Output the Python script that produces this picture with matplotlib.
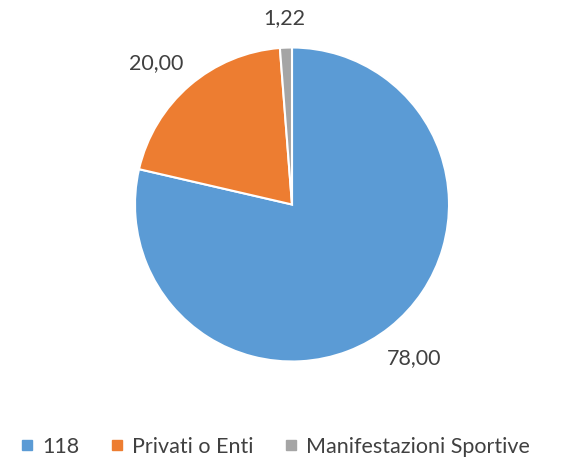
import numpy as np
import matplotlib
matplotlib.use("Agg")
import matplotlib.pyplot as plt
from matplotlib.lines import Line2D

categories = ["118", "Privati o Enti", "Manifestazioni Sportive"]
values = [78.00, 20.00, 1.22]
value_labels = ["78,00", "20,00", "1,22"]
colors = ["#5B9BD5", "#ED7D31", "#A5A5A5"]
text_color = "#404040"

plt.rcParams['font.family'] = ['Lato', 'DejaVu Sans']

fig = plt.figure(figsize=(5.82, 4.57), dpi=100)
W, H = 582, 457
cx, cy, r = 292, 204.5, 157
ax = fig.add_axes([(cx - r) / W, (H - cy - r) / H, 2 * r / W, 2 * r / H])
wedges, _ = ax.pie(values, colors=colors, startangle=90, counterclock=False,
                   wedgeprops=dict(edgecolor="white", linewidth=1.5))
ax.set_xlim(-1, 1)
ax.set_ylim(-1, 1)
ax.set_aspect('equal')
ax.axis('off')

offsets = [(1.25, 0.0), (1.25, 3.0), (1.19, 0.0)]
for w, lab, (d, da) in zip(wedges, value_labels, offsets):
    ang = np.deg2rad((w.theta1 + w.theta2) / 2 + da)
    ax.text(d * np.cos(ang), d * np.sin(ang), lab, ha='center', va='center',
            fontsize=15.5, color=text_color, clip_on=False)

handles = [Line2D([], [], marker='s', linestyle='none', markersize=7,
                  markerfacecolor=c, markeredgecolor=c) for c in colors]
fig.legend(handles, categories, loc='center left', bbox_to_anchor=(0.0 / W, (H - 447) / H),
           ncol=3, frameon=False, fontsize=15.5, handletextpad=0.35,
           columnspacing=1.4, handlelength=0.7, labelcolor=text_color)

fig.savefig("out.png", dpi=100)
